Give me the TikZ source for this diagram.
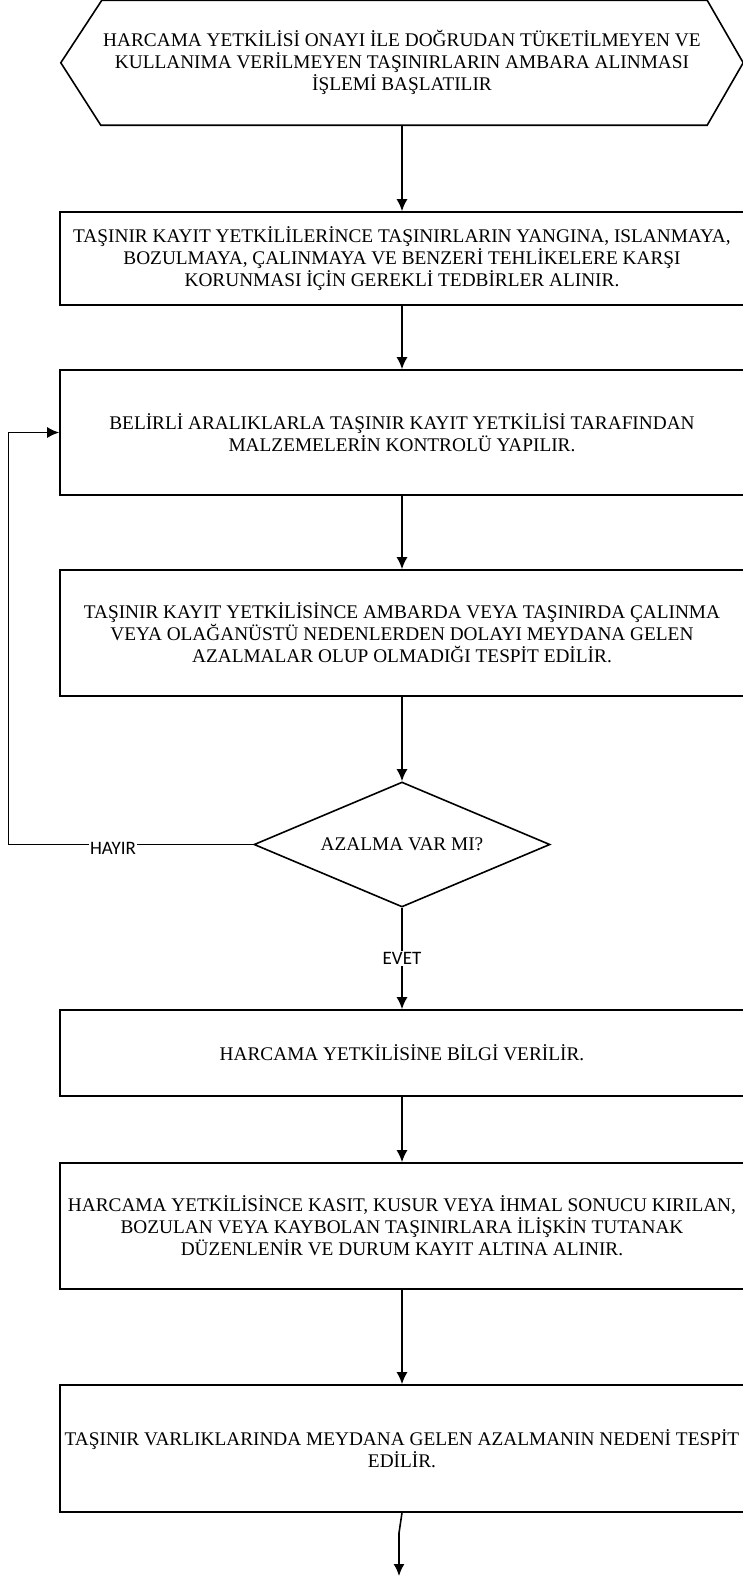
\documentclass[tikz,border=0pt]{standalone}
\usepackage{fontspec}
\setmainfont{Liberation Serif}
\newfontfamily\labelfont{Carlito}
\usepackage{tikz}
\usetikzlibrary{arrows.meta,shapes.geometric}
\tikzset{>={Latex[length=12pt,width=11pt]}}
\tikzstyle{metin}=[font=\fontsize{19.3}{22}\selectfont,align=center]
\tikzstyle{baslangic}=[metin,minimum width=682pt,minimum height=124.5pt,inner sep=0pt]
\tikzstyle{adim}=[metin,draw,line width=1.6pt,minimum width=684pt,inner sep=0pt]
\tikzstyle{karar}=[metin,draw,diamond,aspect=2.4,line width=1.6pt,minimum width=296pt,minimum height=125pt,inner sep=0pt]
\tikzstyle{akis}=[->,line width=1.6pt]
\tikzstyle{cevap}=[fill=white,inner sep=1pt,font=\labelfont\fontsize{19}{22}\selectfont]

\begin{document}
\begin{tikzpicture}[x=1pt,y=-1pt]
  \useasboundingbox (0,0) rectangle (742,1577);
  \node[baslangic] (basla) at (402,62.75) {HARCAMA YETKİLİSİ ONAYI İLE DOĞRUDAN TÜKETİLMEYEN VE\\KULLANIMA VERİLMEYEN TAŞINIRLARIN AMBARA ALINMASI\\İŞLEMİ BAŞLATILIR};
  \draw[line width=1.6pt] (basla.west) -- ([xshift=41pt]basla.north west) -- ([xshift=-36pt]basla.north east)
        -- (basla.east) -- ([xshift=-36pt]basla.south east) -- ([xshift=40pt]basla.south west) -- cycle;
  \node[adim,minimum height=93pt] (tedbir) at (402,258.5) {TAŞINIR KAYIT YETKİLİLERİNCE TAŞINIRLARIN YANGINA, ISLANMAYA,\\BOZULMAYA, ÇALINMAYA VE BENZERİ TEHLİKELERE KARŞI\\KORUNMASI İÇİN GEREKLİ TEDBİRLER ALINIR.};
  \node[adim,minimum height=125pt] (kontrol) at (402,432.5) {BELİRLİ ARALIKLARLA TAŞINIR KAYIT YETKİLİSİ TARAFINDAN\\MALZEMELERİN KONTROLÜ YAPILIR.};
  \node[adim,minimum height=126pt] (tespit) at (402,633) {TAŞINIR KAYIT YETKİLİSİNCE AMBARDA VEYA TAŞINIRDA ÇALINMA\\VEYA OLAĞANÜSTÜ NEDENLERDEN DOLAYI MEYDANA GELEN\\AZALMALAR OLUP OLMADIĞI TESPİT EDİLİR.};
  \node[karar] (azalma) at (402,844.5) {AZALMA VAR MI?};
  \node[adim,minimum height=86pt] (bilgi) at (402,1053) {HARCAMA YETKİLİSİNE BİLGİ VERİLİR.};
  \node[adim,minimum height=126pt] (tutanak) at (402,1226) {HARCAMA YETKİLİSİNCE KASIT, KUSUR VEYA İHMAL SONUCU KIRILAN,\\BOZULAN VEYA KAYBOLAN TAŞINIRLARA İLİŞKİN TUTANAK\\DÜZENLENİR VE DURUM KAYIT ALTINA ALINIR.};
  \node[adim,minimum height=127pt] (neden) at (402,1448.5) {TAŞINIR VARLIKLARINDA MEYDANA GELEN AZALMANIN NEDENİ TESPİT\\EDİLİR.};
  \coordinate (geri) at (8.5,844.5);
  \coordinate (kirik) at (399,1533);
  \coordinate (son) at (399,1576);

  \draw[akis] (basla) -- (tedbir);
  \draw[akis] (tedbir) -- (kontrol);
  \draw[akis] (kontrol) -- (tespit);
  \draw[akis] (tespit) -- (azalma);
  \draw[akis] (azalma) -- node[cevap] {EVET} (bilgi);
  \draw[akis] (azalma.west) -- node[cevap,pos=0.573,yshift=-4pt] {HAYIR} (geri) |- (kontrol.west);
  \draw[akis] (bilgi) -- (tutanak);
  \draw[akis] (tutanak) -- (neden);
  \draw[akis] (neden.south) -- (kirik) -- (son);
\end{tikzpicture}
\end{document}
